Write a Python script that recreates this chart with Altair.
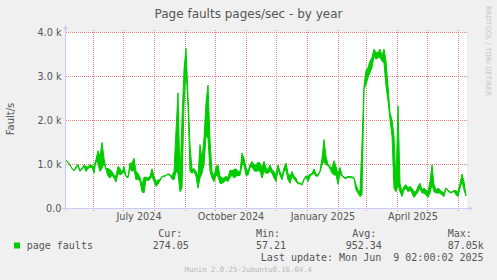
import altair as alt
import pandas as pd

# ---- data (faults/s), one sample every 2 days, low / high of each interval ----
lo = [1080, 1040, 970, 900, 850, 900, 960, 830, 880, 950,
      830, 900, 920, 930, 790, 1080, 1000, 830, 900, 1020,
      870, 720, 680, 750, 680, 590, 790, 750, 780, 830,
      710, 690, 900, 830, 870, 640, 660, 600, 370, 340,
      650, 620, 660, 720, 600, 490, 540, 620, 710, 710,
      740, 760, 740, 660, 640, 830, 790, 370, 450, 2350,
      3150, 2310, 830, 790, 830, 720, 450, 680, 790, 980,
      1630, 1590, 830, 680, 600, 750, 720, 560, 560, 590,
      640,
      600, 690, 750, 680, 720, 740, 740, 980, 980, 740,
      750, 910, 940, 850, 830, 850, 830, 680, 830, 790,
      790, 830, 790, 680, 600, 870, 750, 640, 830, 870,
      640, 560, 720, 660, 600, 550, 550, 520, 640, 710,
      600, 720, 760, 790, 720, 730, 820, 980, 1060, 980,
      970, 890, 790, 750, 750, 540, 770, 730, 680, 670,
      700, 690, 690, 670, 410, 340, 260, 300, 2700, 2810,
      2960, 3080, 3190, 3460, 3380, 3420, 3420, 3340, 3300, 2770,
      2430, 2010, 1630, 450, 370, 530, 370, 260, 410, 450,
      370, 410, 340, 240, 300, 370, 450, 340, 340, 300,
      240, 340, 530, 370, 340, 340, 340, 300, 260, 440,
      390, 340, 350, 380, 300, 260, 450, 600, 410, 270]
hi = [1080, 1040, 970, 900, 850, 940, 990, 850, 910, 980,
      940, 930, 990, 960, 940, 1100, 1300, 1170, 1490, 1130,
      890, 900, 870, 830, 750, 720, 945, 900, 800, 945,
      730, 710, 1020, 1020, 1130, 830, 790, 700, 530, 700,
      700, 680, 720, 890, 720, 600, 640, 640, 720, 730,
      740, 780, 760, 720, 830, 1760, 2620, 680, 2010, 3150,
      3630, 2540, 1440, 870, 900, 830, 720, 1440, 1100, 1590,
      2390, 2790, 1550, 830, 720, 940, 980, 720, 680, 680,
      720,
      690, 860, 845, 870, 890, 830, 830, 1250, 1130, 910,
      830, 980, 1060, 980, 980, 1040, 1020, 910, 1060, 910,
      870, 980, 870, 830, 750, 980, 830, 720, 910, 1020,
      790, 720, 830, 720, 680, 570, 570, 540, 660, 730,
      720, 770, 780, 890, 770, 750, 840, 1130, 1555, 1170,
      990, 945, 910, 1075, 945, 770, 920, 750, 700, 690,
      720, 710, 710, 690, 530, 410, 370, 1480, 2770, 3120,
      3190, 3340, 3420, 3610, 3530, 3530, 3610, 3460, 3610, 3340,
      2770, 2160, 2010, 1630, 560, 2320, 560, 370, 490, 530,
      450, 490, 450, 370, 370, 490, 560, 410, 450, 410,
      370, 600, 980, 530, 410, 450, 410, 370, 340, 460,
      410, 360, 370, 400, 390, 370, 560, 770, 600, 280]

start = "2024-05-04T12:00:00"
dates = pd.date_range(start=start, periods=len(lo), freq="2D")
df = pd.DataFrame({"date": dates, "lo": lo, "hi": hi})

month_starts = ["2024-06-01", "2024-07-01", "2024-08-01", "2024-09-01",
                "2024-10-01", "2024-11-01", "2024-12-01", "2025-01-01",
                "2025-02-01", "2025-03-01", "2025-04-01", "2025-05-01",
                "2025-06-01"]
grid_x = pd.DataFrame({"date": pd.to_datetime(month_starts)})
y_grid_vals = [1000, 2000, 3000, 4000]
grid_y = pd.DataFrame({"v": y_grid_vals})
y_tick_vals = [0, 1000, 2000, 3000, 4000]

label_dates = [alt.DateTime(year=2024, month=7, date=16),
               alt.DateTime(year=2024, month=10, date=16),
               alt.DateTime(year=2025, month=1, date=16),
               alt.DateTime(year=2025, month=4, date=16)]

# legend / footer texts
legend_name = "page faults"
stat_heads = ["Cur:", "Min:", "Avg:", "Max:"]
stat_vals = ["274.05", "57.21", "952.34", "87.05k"]
last_update = "Last update: Mon Jun\u00a0\u00a09 02:00:02 2025"

W, H = 401, 176
OX, OY = 66, 32
GREEN = "#00cc00"
GRID = "#e88080"
AXISC = "#c8ccf4"
TXT = "#555555"

xscale = alt.Scale(domain=[alt.DateTime(year=2024, month=5, date=4, hours=12),
                           alt.DateTime(year=2025, month=6, date=9, hours=12)])
yscale = alt.Scale(domain=[0, 4000], nice=False)

x_axis = alt.Axis(values=label_dates, format="%B %Y", labelFont="DejaVu Sans",
                  labelFontSize=9.7, labelColor=TXT, ticks=False, grid=False,
                  domain=False, labelPadding=3, title=None)
y_axis = alt.Axis(values=y_tick_vals,
                  labelExpr="datum.value == 0 ? '0.0' : format(datum.value/1000, '.1f') + ' k'",
                  labelFont="DejaVu Sans", labelFontSize=9.7, labelColor=TXT,
                  ticks=False, grid=False, domain=False, labelPadding=5, title=None)

X = alt.X("date:T", scale=xscale, axis=x_axis, title=None)

dummy = pd.DataFrame({"a": [0]})

gx = alt.Chart(grid_x).mark_rule(color=GRID, strokeWidth=1, strokeDash=[1, 1]).encode(
    x=X, y=alt.value(-2), y2=alt.value(H + 3))
gy = alt.Chart(grid_y).mark_rule(color=GRID, strokeWidth=1, strokeDash=[1, 1],
                                 yOffset=0.5).encode(
    y=alt.Y("v:Q", scale=yscale, axis=y_axis, title=None), x=alt.value(0), x2=alt.value(W + 1))

band = alt.Chart(df).mark_area(color=GREEN, opacity=1).encode(
    x=X, y=alt.Y("lo:Q", scale=yscale, axis=y_axis, title=None), y2="hi:Q")
line_lo = alt.Chart(df).mark_line(color=GREEN, strokeWidth=1).encode(
    x=X, y=alt.Y("lo:Q", scale=yscale, axis=y_axis, title=None))
line_hi = alt.Chart(df).mark_line(color=GREEN, strokeWidth=1).encode(
    x=X, y=alt.Y("hi:Q", scale=yscale, axis=y_axis, title=None))

yline = alt.Chart(dummy).mark_rule(color=AXISC, strokeWidth=1).encode(
    x=alt.value(-0.5), y=alt.value(-5), y2=alt.value(H + 3))
xline = alt.Chart(dummy).mark_rule(color=AXISC, strokeWidth=1).encode(
    y=alt.value(H + 0.5), x=alt.value(-4), x2=alt.value(W + 4))
yarrow = alt.Chart(dummy).mark_point(shape="triangle-up", filled=True, color=AXISC,
                                     size=22, opacity=1).encode(
    x=alt.value(-0.5), y=alt.value(-5))
xarrow = alt.Chart(dummy).mark_point(shape="triangle-right", filled=True, color=AXISC,
                                     size=22, opacity=1).encode(
    x=alt.value(W + 4), y=alt.value(H + 0.5))


def txt(s, x, y, size=10, font="DejaVu Sans Mono", color=TXT, align="left",
        baseline="alphabetic", angle=None):
    kw = dict(text=s, font=font, fontSize=size, color=color, align=align, baseline=baseline)
    if angle is not None:
        kw["angle"] = angle
    return alt.Chart(dummy).mark_text(**kw).encode(x=alt.value(x - OX), y=alt.value(y - OY))


texts = [
    txt("Page faults pages/sec - by year", 248.5, 17.5, size=12, font="DejaVu Sans",
        align="center"),
    txt("Fault/s", 10.8, 119, size=10, font="DejaVu Sans", align="center",
        baseline="middle", angle=270),
    txt("RRDTOOL / TOBI OETIKER", 487.5, 51, size=7, font="DejaVu Sans", color="#c4c4c4",
        align="center", baseline="middle", angle=90),
    txt(legend_name, 26.7, 249),
    txt(stat_heads[0], 158.3, 237.3), txt(stat_vals[0], 152.7, 249),
    txt(stat_heads[1], 256, 237.3), txt(stat_vals[1], 256, 249),
    txt(stat_heads[2], 352.3, 237.3), txt(stat_vals[2], 345.7, 249),
    txt(stat_heads[3], 447.7, 237.3), txt(stat_vals[3], 447.7, 249),
    txt(last_update, 483.6, 261, align="right"),
    txt("Munin 2.0.25-2ubuntu0.16.04.4", 248.3, 271.7, size=7.3, color="#b8b8b8",
        align="center"),
]

swatch = alt.Chart(dummy).mark_rect(color=GREEN).encode(
    x=alt.value(14 - OX), x2=alt.value(20 - OX), y=alt.value(242.5 - OY), y2=alt.value(248.5 - OY))

chart = alt.layer(gx, gy, band, line_lo, line_hi, yline, xline, yarrow, xarrow, swatch,
                  *texts).properties(
    width=W, height=H,
    autosize=alt.AutoSizeParams(type="none"),
    padding={"left": OX, "top": OY, "right": 497 - OX - W, "bottom": 280 - OY - H},
    background="#f0f0f0",
).configure_view(fill="white", stroke=None)

chart.save("out.html", embed_options={"renderer": "svg", "actions": False})
